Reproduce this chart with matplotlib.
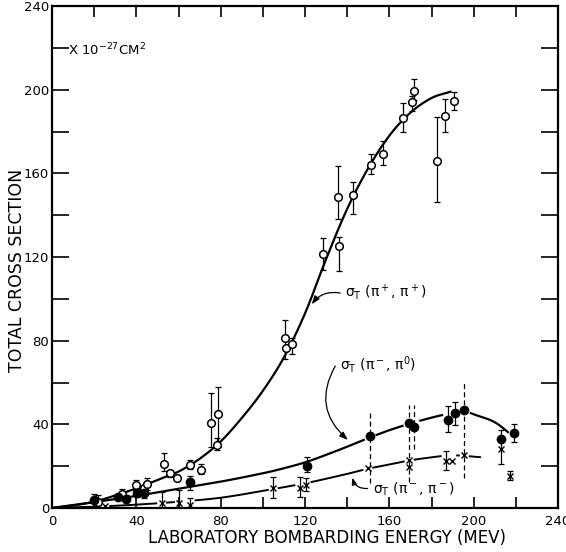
import numpy as np
import matplotlib.pyplot as plt
from matplotlib.ticker import MultipleLocator

nan = np.nan

# sigma_T(pi+, pi+) -- open circles
pip_E = [21.9, 33, 40, 43.5, 45, 53.3, 56, 59.5, 65.5, 70.5, 75.3, 78.6, 78.3,
         110.5, 111, 113.7, 128.7, 135.8, 136.3, 142.6, 151.3, 156.9, 166.7,
         170.9, 171.9, 182.8, 186.4, 190.7]
pip_sig = [3, 6.7, 11, 9.5, 11.5, 21, 16.5, 14.5, 20.6, 18.3, 40.7, 44.8, 30.1,
           81.5, 76.7, 78.5, 121.4, 148.5, 125.4, 149.8, 163.8, 169.2, 186.3,
           193.9, 199.2, 166, 187.6, 194.7]
pip_lo = [0.5, 4.5, 8.6, nan, 8.5, 17.7, 15, 13, 18.7, 16.4, 29.3, 29.3, 27.8,
          71, nan, 73.7, 113.9, 138.3, 113.4, 140.6, 159.8, 163.8, 179.6,
          190, 195.2, 146.1, 180, 190.4]
pip_hi = [6.2, 9, 13.5, nan, 14.5, 26.2, 18, 16, 22.9, 21, 55.2, 57.7, 33.5,
          90, nan, 81.3, 129.3, 163.3, 129.8, 155.8, 169.2, 175.6, 193.6,
          197, 205.3, 186.9, 195.6, 198.9]

# sigma_T(pi-, pi0) -- filled circles
pi0_E = [19.8, 31.5, 35.1, 40.3, 43.5, 65.5, 120.8, 150.9, 169.4, 171.7, 188,
         191.2, 195.6, 213, 219.3]
pi0_sig = [4, 5.1, 4.5, 7.3, 7, 12.2, 20.2, 34.6, 40.5, 38.6, 42.1, 45.3, 46.9,
           33, 35.7]
pi0_lo = [2.2, 3.6, 3, 5.3, 5, 8.6, 17.4, nan, nan, nan, 36.5, 39.7, nan, 21, 31.7]
pi0_hi = [6.7, 6.6, 6, 9.3, 9, 15.3, 24.3, nan, nan, nan, 48.8, 50.9, nan, 37.3, 40.2]

# dashed (large) uncertainty bars
dash_E = [150.9, 169.4, 171.7, 195.4]
dash_lo = [12, 12.6, 28, 14.2]
dash_hi = [45.3, 49.3, 49.3, 59.7]

# sigma_T(pi-, pi-) -- crosses
pim_E = [25, 52, 60.4, 65.5, 105, 117.6, 120.5, 149.8, 169.4, 169.4, 186.9,
         189.6, 195.6, 213, 217.3]
pim_sig = [1, 2.5, 2.5, 1.5, 9.4, 9.4, 11, 19.3, 23, 19.8, 22.5, 22.6, 25.4,
           28.2, 15.3]
pim_lo = [nan, 0, 0, 0, 4.6, 5.2, 8.1, nan, nan, nan, 18.2, nan, nan, nan, 13.4]
pim_hi = [nan, 7.8, 8.6, 4.8, 15, 14.8, 14.5, nan, nan, nan, 27.3, nan, nan, nan, 17.8]

# hand-drawn curves
pip_curve_E = [0, 10, 20, 30, 40, 50, 60, 70, 80, 90, 100, 110, 120, 130, 140,
               150, 160, 170, 180, 189]
pip_curve_sig = [0, 1.2, 3, 6, 9.4, 13.4, 17.4, 23.5, 31.8, 43, 56, 72, 93, 119,
                 143, 162.5, 178, 189, 196, 199]
pi0_curve_E = [0, 20, 40, 60, 80, 100, 110, 120, 130, 140, 150, 160, 170, 180,
               190, 196, 200, 210, 219]
pi0_curve_sig = [0, 2.8, 5.8, 9.2, 12.6, 16.6, 19.0, 21.8, 25.4, 29.3, 33.4, 37.2,
                 40.4, 43.2, 45.5, 46.3, 44.8, 41, 34]
pim_curve_E = [0, 20, 40, 60, 80, 100, 120, 130, 140, 150, 160, 170, 180, 190, 203]
pim_curve_sig = [0, 0.6, 1.6, 3.0, 4.9, 8.2, 11.8, 14, 16.3, 18.8, 20.8, 22.8,
                 24.2, 25.2, 24.3]


def smooth(cx, cy, n=30):
    # Catmull-Rom through the read points, just for drawing
    p = np.column_stack([cx, cy]).astype(float)
    p = np.vstack([2 * p[0] - p[1], p, 2 * p[-1] - p[-2]])
    t = np.linspace(0, 1, n, endpoint=False)[:, None]
    out = []
    for i in range(1, len(p) - 2):
        p0, p1, p2, p3 = p[i - 1], p[i], p[i + 1], p[i + 2]
        out.append(0.5 * (2 * p1 + (p2 - p0) * t
                          + (2 * p0 - 5 * p1 + 4 * p2 - p3) * t ** 2
                          + (3 * p1 - p0 - 3 * p2 + p3) * t ** 3))
    out.append(p[-2][None, :])
    out = np.vstack(out)
    return out[:, 0], out[:, 1]


def broken_curve(cx, cy, px, py, half, emin=0.0, tol=4.0):
    # curve with gaps where it runs through the plotted points
    sx, sy = smooth(cx, cy)
    grid = np.linspace(cx[0], cx[-1], 1500)
    vals = np.interp(grid, sx, sy)
    for e, s in zip(px, py):
        if e < emin:
            continue
        if abs(np.interp(e, cx, cy) - s) < tol:
            vals[np.abs(grid - e) < half] = np.nan
    return grid, vals


def draw_errors(ax, x, lo, hi):
    x = np.asarray(x)
    lo = np.asarray(lo)
    hi = np.asarray(hi)
    ok = ~np.isnan(lo)
    mid = (lo[ok] + hi[ok]) / 2
    ax.errorbar(x[ok], mid, yerr=(hi[ok] - lo[ok]) / 2, fmt='none',
                ecolor='black', elinewidth=0.9, capsize=2.2, capthick=0.9,
                zorder=3)


plt.rcParams['mathtext.default'] = 'regular'

fig = plt.figure(figsize=(5.66, 5.52), dpi=100)
ax = fig.add_axes([52 / 566, 44 / 552, 506 / 566, 502 / 552])
ax.set_xlim(0, 240)
ax.set_ylim(0, 240)

# curves
sx, sy = smooth(pip_curve_E, pip_curve_sig)
ax.plot(sx, sy, color='black', lw=1.6, zorder=2)
gx, gy = broken_curve(pi0_curve_E, pi0_curve_sig, pi0_E, pi0_sig, 3.0, emin=140)
ax.plot(gx, gy, color='black', lw=1.6, zorder=2)
gx, gy = broken_curve(pim_curve_E, pim_curve_sig, pim_E, pim_sig, 2.5)
ax.plot(gx, gy, color='black', lw=1.4, zorder=2)

# error bars
draw_errors(ax, pip_E, pip_lo, pip_hi)
draw_errors(ax, pi0_E, pi0_lo, pi0_hi)
draw_errors(ax, pim_E, pim_lo, pim_hi)
ax.vlines(dash_E, dash_lo, dash_hi, colors='black', linestyles=(0, (4, 2.5)),
          lw=0.9, zorder=1)

# points
ax.plot(pip_E, pip_sig, 'o', mfc='white', mec='black', ms=5.5, mew=1.1, zorder=4)
ax.plot(pi0_E, pi0_sig, 'o', color='black', ms=6, zorder=4)
ax.plot(pim_E, pim_sig, 'x', color='black', ms=3.8, mew=1.0, zorder=4)

# labels on curves
ax.text(7.6, 219, r'X 10$^{-27}$CM$^2$', fontsize=9.5, va='center')
ax.text(139, 103, r'$\sigma_T$ ($\pi^+$, $\pi^+$)', fontsize=10, va='center')
ax.annotate('', xy=(122.4, 96.3), xytext=(138, 102.5),
            arrowprops=dict(arrowstyle='-|>,head_length=0.5,head_width=0.18',
                            color='black', lw=0.9,
                            connectionstyle='arc3,rad=0.35'))
ax.text(136.6, 68.4, r'$\sigma_T$ ($\pi^-$, $\pi^0$)', fontsize=10, va='center')
ax.annotate('', xy=(141.4, 31.7), xytext=(135, 69),
            arrowprops=dict(arrowstyle='-|>,head_length=0.5,head_width=0.18',
                            color='black', lw=0.9,
                            connectionstyle='arc3,rad=0.43'))
ax.text(152.4, 9, r'$\sigma_T$ ($\pi^-$, $\pi^-$)', fontsize=10, va='center')
ax.annotate('', xy=(142.2, 15.8), xytext=(151, 9.5),
            arrowprops=dict(arrowstyle='-|>,head_length=0.4,head_width=0.15',
                            color='black', lw=0.9,
                            connectionstyle='arc3,rad=-0.5'))

# axes styling
for sp in ax.spines.values():
    sp.set_linewidth(1.6)
ax.xaxis.set_major_locator(MultipleLocator(40))
ax.xaxis.set_minor_locator(MultipleLocator(20))
ax.yaxis.set_major_locator(MultipleLocator(40))
ax.yaxis.set_minor_locator(MultipleLocator(20))
ax.tick_params(which='both', direction='in', top=True, right=True,
               length=8, width=1.2, labelsize=9.5)
ax.tick_params(axis='x', which='both', pad=5)
ax.tick_params(axis='y', which='both', length=12, pad=2)

fig.text(0.577, 0.026, 'LABORATORY BOMBARDING ENERGY (MEV)', ha='center',
         va='center', fontsize=12)
fig.text(17 / 566, 0.511, 'TOTAL CROSS SECTION', rotation=90, ha='center',
         va='center', fontsize=12.5)

fig.savefig('out.png', dpi=100)
